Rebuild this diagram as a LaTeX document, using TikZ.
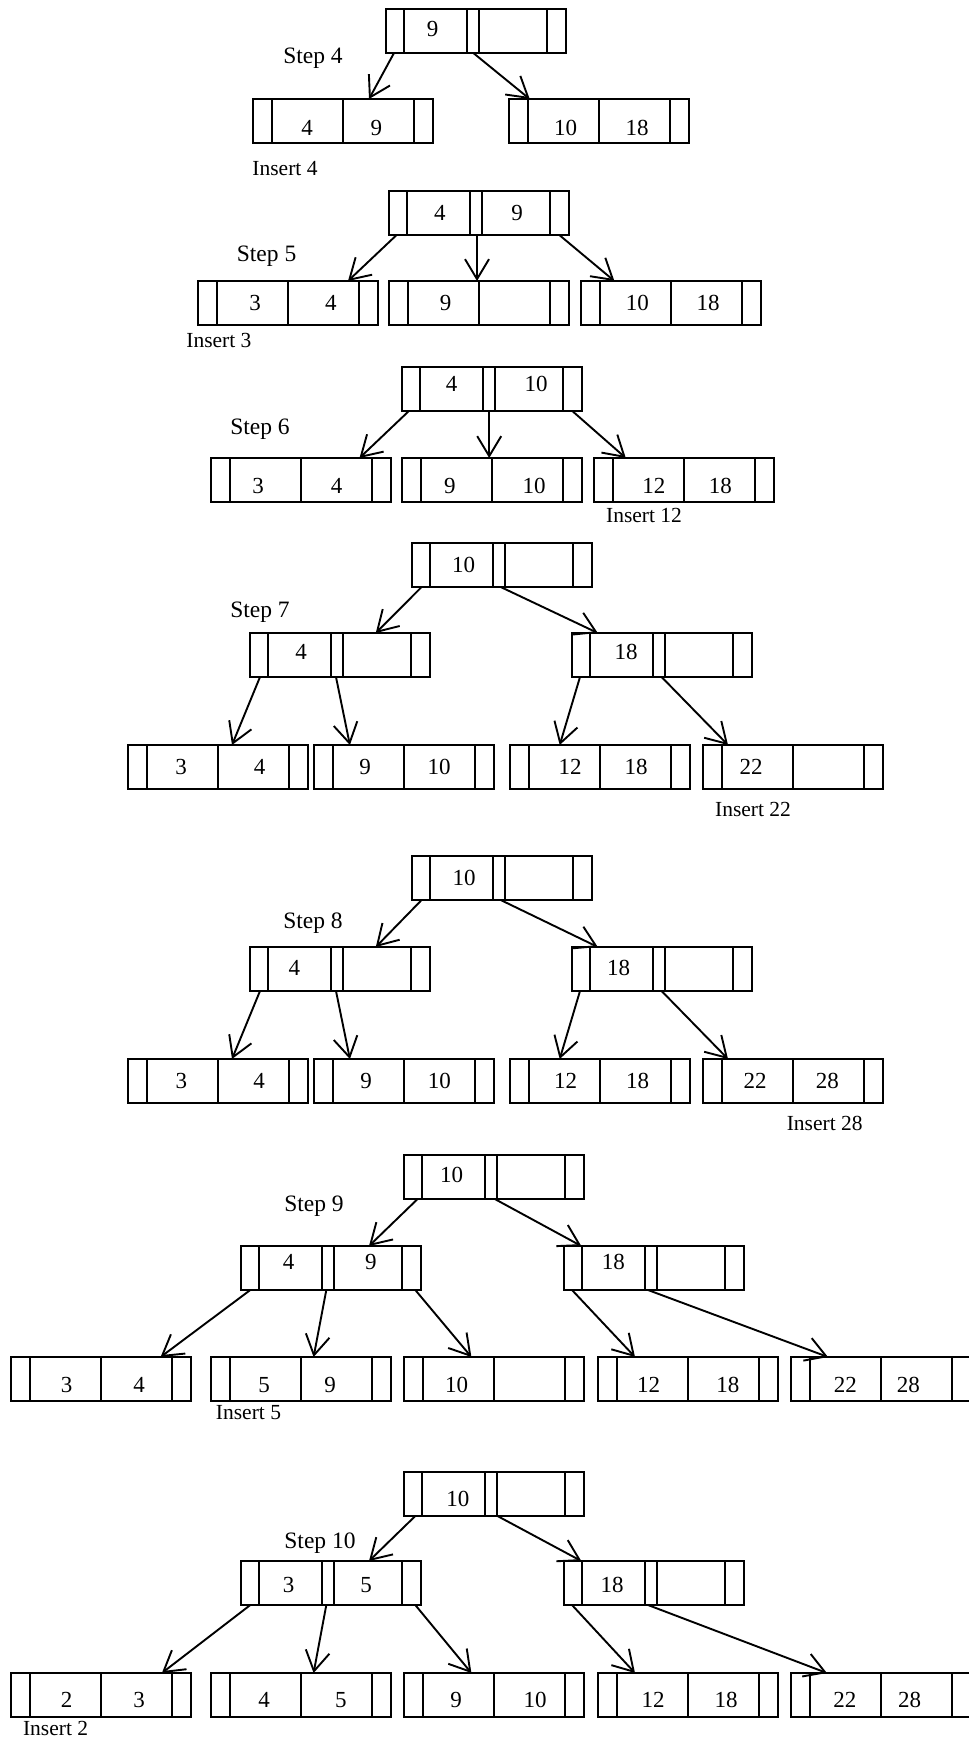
\documentclass[tikz,border=0pt]{standalone}
\usepackage{fontspec}
\setmainfont{Liberation Serif}
\usetikzlibrary{arrows.meta}
\tikzset{
  bx/.style={draw, line width=2pt, minimum width=180pt, minimum height=44pt, inner sep=0pt, outer sep=0pt},
  div/.style={line width=2pt},
  key/.style={inner sep=0pt, font=\fontsize{23}{26}\selectfont},
  lbl/.style={inner sep=0pt, font=\fontsize{23.5}{26}\selectfont},
  ins/.style={inner sep=0pt, font=\fontsize{21.5}{24}\selectfont},
  arr/.style={line width=1.9pt, -{Straight Barb[length=20pt,width=24pt]}},
}
% type A: four slots (ptr | key | key | ptr)
\newcommand\bxA[8]{%
  \node[bx, anchor=north west] (#1) at (#2,#3) {};
  \draw[div] ([xshift=19pt]#1.north west) -- ([xshift=19pt]#1.south west)
    ([xshift=90pt]#1.north west) -- ([xshift=90pt]#1.south west)
    ([xshift=161pt]#1.north west) -- ([xshift=161pt]#1.south west);
  \node[key] (#1k1) at ([xshift=#5pt, yshift={-(#8)*1pt}]#1.west) {#4};
  \node[key] (#1k2) at ([xshift=#7pt, yshift={-(#8)*1pt}]#1.west) {#6};
}
% type B: five slots (ptr | key | ptr | key | ptr)
\newcommand\bxB[8]{%
  \node[bx, anchor=north west] (#1) at (#2,#3) {};
  \draw[div] ([xshift=18pt]#1.north west) -- ([xshift=18pt]#1.south west)
    ([xshift=81pt]#1.north west) -- ([xshift=81pt]#1.south west)
    ([xshift=93pt]#1.north west) -- ([xshift=93pt]#1.south west)
    ([xshift=161pt]#1.north west) -- ([xshift=161pt]#1.south west);
  \node[key] (#1k1) at ([xshift=#5pt, yshift={-(#8)*1pt}]#1.west) {#4};
  \node[key] (#1k2) at ([xshift=#7pt, yshift={-(#8)*1pt}]#1.west) {#6};
}
\newcommand\arrto[4]{\draw[arr] ([xshift=#2pt]#1.south west) -- ([xshift=#4pt]#3.north west);}
\begin{document}
\begin{tikzpicture}[x=1pt,y=-1pt]
\useasboundingbox (0,0) rectangle (969,1740);
\clip (0,0) rectangle (969,1740);
\fill[white] (0,0) rectangle (969,1740);

% ---------- Step 4
\bxB{r4}{386}{9}{9}{46.7}{}{127}{-2}
\bxA{l4a}{253}{99}{4}{54}{9}{123.3}{7}
\bxA{l4b}{509}{99}{10}{56.7}{18}{128}{7}
\node[lbl] (s4) at (313,58) {Step 4};
\node[ins] (i4) at (285,169) {Insert 4};
\arrto{r4}{8}{l4a}{116}
\arrto{r4}{87.3}{l4b}{20.7}

% ---------- Step 5
\bxB{r5}{389}{191}{4}{50.9}{9}{128}{0}
\bxA{l5a}{198}{281}{3}{57}{4}{132.8}{0}
\bxA{l5b}{389}{281}{9}{56.6}{}{125.5}{0}
\bxA{l5c}{581}{281}{10}{56.3}{18}{127}{0}
\node[lbl] (s5) at (266.6,256) {Step 5};
\node[ins] (i5) at (218.9,340) {Insert 3};
\arrto{r5}{7.6}{l5a}{150}
\arrto{r5}{88}{l5b}{88}
\arrto{r5}{170.3}{l5c}{33.4}

% ---------- Step 6
\bxB{r6}{402}{367}{4}{49.7}{10}{134}{-5}
\bxA{l6a}{211}{458}{3}{47}{4}{125.5}{6}
\bxA{l6b}{402}{458}{9}{47.8}{10}{132}{6}
\bxA{l6c}{594}{458}{12}{59.8}{18}{126.4}{6}
\node[lbl] (s6) at (260,429) {Step 6};
\node[ins] (i6) at (644,515) {Insert 12};
\arrto{r6}{6.9}{l6a}{148.5}
\arrto{r6}{87.2}{l6b}{87.2}
\arrto{r6}{170.3}{l6c}{31.8}

% ---------- Step 7
\bxB{r7}{412}{543}{10}{51.5}{}{127}{0}
\bxB{m7a}{250}{633}{4}{51}{}{127}{-3}
\bxB{m7b}{572}{633}{18}{54}{}{127}{-3}
\bxA{l7a}{128}{745}{3}{53}{4}{131.6}{0}
\bxA{l7b}{314}{745}{9}{51}{10}{125}{0}
\bxA{l7c}{510}{745}{12}{60}{18}{126}{0}
\bxA{l7d}{703}{745}{22}{48}{}{125.5}{0}
\node[lbl] (s7) at (260,612) {Step 7};
\node[ins] (i7) at (753,809) {Insert 22};
\arrto{r7}{9.6}{m7a}{125.8}
\arrto{r7}{88.7}{m7b}{25.8}
\arrto{m7a}{10}{l7a}{104}
\arrto{m7a}{86}{l7b}{35.9}
\arrto{m7b}{8}{l7c}{49.7}
\arrto{m7b}{89.6}{l7d}{25}

% ---------- Step 8
\bxB{r8}{412}{856}{10}{52}{}{127}{0}
\bxB{m8a}{250}{947}{4}{44.4}{}{127}{-1}
\bxB{m8b}{572}{947}{18}{46.7}{}{127}{-1}
\bxA{l8a}{128}{1059}{3}{53.3}{4}{131}{0}
\bxA{l8b}{314}{1059}{9}{52.2}{10}{125.4}{0}
\bxA{l8c}{510}{1059}{12}{55.5}{18}{127.6}{0}
\bxA{l8d}{703}{1059}{22}{52.2}{28}{124.3}{0}
\node[lbl] (s8) at (313,923.5) {Step 8};
\node[ins] (i8) at (824.7,1123.3) {Insert 28};
\arrto{r8}{9.6}{m8a}{125.8}
\arrto{r8}{88.7}{m8b}{25.8}
\arrto{m8a}{10}{l8a}{104}
\arrto{m8a}{86}{l8b}{35.9}
\arrto{m8b}{8}{l8c}{49.7}
\arrto{m8b}{89.6}{l8d}{25}

% ---------- Step 9
\bxB{r9}{404}{1155}{10}{47.5}{}{127}{-2}
\bxB{m9a}{241}{1246}{4}{47.6}{9}{129.8}{-6}
\bxB{m9b}{564}{1246}{18}{49.4}{}{127}{-6}
\bxA{l9a}{11}{1357}{3}{55.6}{4}{128}{6}
\bxA{l9b}{211}{1357}{5}{53}{9}{119}{6}
\bxA{l9c}{404}{1357}{10}{52.5}{}{125.5}{6}
\bxA{l9d}{598}{1357}{12}{50.6}{18}{129.8}{6}
\bxA{l9e}{791}{1357}{22}{54.4}{28}{117.4}{6}
\node[lbl] (s9) at (314,1206) {Step 9};
\node[ins] (i9) at (248.5,1412.5) {Insert 5};
\arrto{r9}{13.6}{m9a}{128}
\arrto{r9}{90.8}{m9b}{17.3}
\arrto{m9a}{9.3}{l9a}{149.6}
\arrto{m9a}{85.3}{l9b}{102.6}
\arrto{m9a}{174.3}{l9c}{67.4}
\arrto{m9b}{8}{l9d}{37}
\arrto{m9b}{84}{l9e}{37}

% ---------- Step 10
\bxB{r10}{404}{1472}{10}{53.8}{}{127}{5}
\bxB{m10a}{241}{1561}{3}{47.6}{5}{125}{2}
\bxB{m10b}{564}{1561}{18}{48.2}{}{127}{2}
\bxA{l10a}{11}{1673}{2}{55.6}{3}{128}{5}
\bxA{l10b}{211}{1673}{4}{53}{5}{129.8}{5}
\bxA{l10c}{404}{1673}{9}{52}{10}{131}{5}
\bxA{l10d}{598}{1673}{12}{55}{18}{128}{5}
\bxA{l10e}{791}{1673}{22}{53.8}{28}{118.7}{5}
\node[lbl] (s10) at (320,1543) {Step 10};
\node[ins] (i10) at (55.6,1728) {Insert 2};
\arrto{r10}{11.3}{m10a}{128}
\arrto{r10}{93.5}{m10b}{17.3}
\arrto{m10a}{9.3}{l10a}{150.9}
\arrto{m10a}{85.3}{l10b}{102.6}
\arrto{m10a}{174.3}{l10c}{67.4}
\arrto{m10b}{8}{l10d}{37}
\arrto{m10b}{84}{l10e}{35.9}
\end{tikzpicture}
\end{document}
